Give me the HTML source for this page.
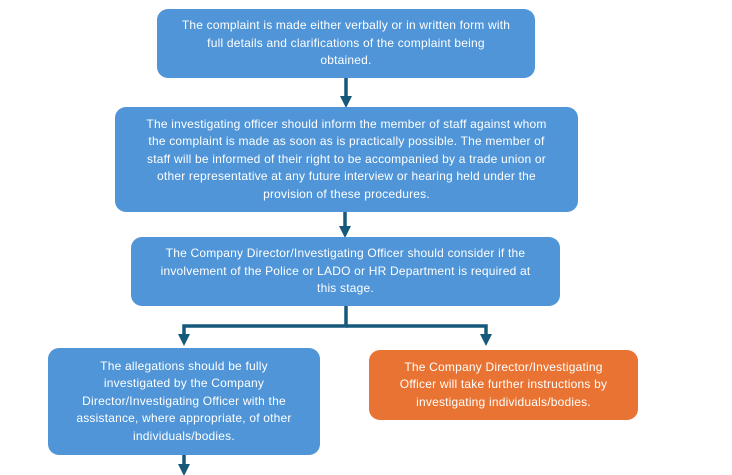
<!DOCTYPE html>
<html><head><style>
body{margin:0;width:732px;height:475px;background:#fff;position:relative;overflow:hidden;font-family:"Liberation Sans",sans-serif;}
.b{position:absolute;box-sizing:border-box;background:#4f95d8;border-radius:11px;color:#fff;font-size:12px;line-height:17.5px;text-align:center;display:flex;align-items:center;justify-content:center;padding:0 4px;white-space:nowrap;letter-spacing:0.2px;}
.o{background:#e97332;}
svg{position:absolute;left:0;top:0;}
</style></head><body>
<svg width="732" height="475">
<g stroke="#17597b" stroke-width="3.5" fill="none">
<line x1="346" y1="78" x2="346" y2="98"/>
<line x1="345" y1="212" x2="345" y2="228"/>
<polyline points="346,306 346,326 184,326 184,336"/>
<polyline points="346,326 486,326 486,336"/>
<line x1="184" y1="455" x2="184" y2="466"/>
</g>
<g fill="#17597b">
<polygon points="340,96 352,96 346,108"/>
<polygon points="339,226 351,226 345,238"/>
<polygon points="178,334 190,334 184,346"/>
<polygon points="480,334 492,334 486,346"/>
<polygon points="178,464 190,464 184,476"/>
</g>
</svg>
<div class="b" style="left:157px;top:9px;width:378px;height:69px;">The complaint is made either verbally or in written form with<br>full details and clarifications of the complaint being<br>obtained.</div>
<div class="b" style="left:115px;top:107px;width:463px;height:105px;">The investigating officer should inform the member of staff against whom<br>the complaint is made as soon as is practically possible. The member of<br>staff will be informed of their right to be accompanied by a trade union or<br>other representative at any future interview or hearing held under the<br>provision of these procedures.</div>
<div class="b" style="left:131px;top:237px;width:429px;height:69px;">The Company Director/Investigating Officer should consider if the<br>involvement of the Police or LADO or HR Department is required at<br>this stage.</div>
<div class="b" style="left:48px;top:348px;width:272px;height:107px;">The allegations should be fully<br>investigated by the Company<br>Director/Investigating Officer with the<br>assistance, where appropriate, of other<br>individuals/bodies.</div>
<div class="b o" style="left:369px;top:350px;width:269px;height:70px;">The Company Director/Investigating<br>Officer will take further instructions by<br>investigating individuals/bodies.</div>
</body></html>
